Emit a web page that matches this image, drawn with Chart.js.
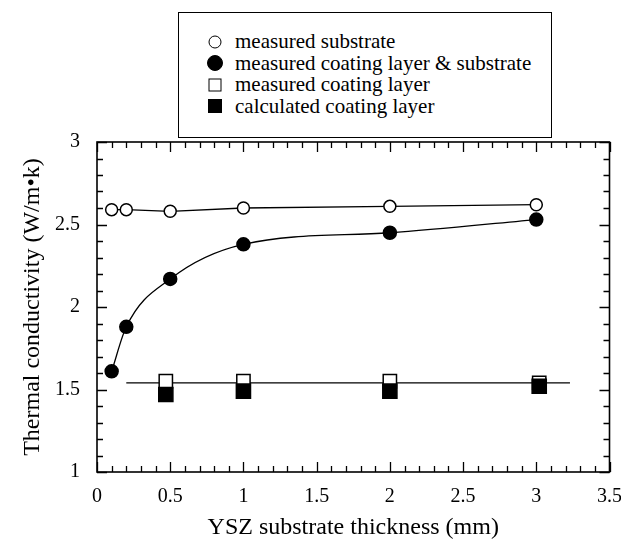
<!DOCTYPE html>
<html>
<head>
<meta charset="utf-8">
<script src="https://cdn.jsdelivr.net/npm/chart.js@4.4.1/dist/chart.umd.min.js"></script>
<style>
body { margin: 0; background: #fff; }
#wrap { position: relative; width: 621px; height: 542px; }
#legend {
    position: absolute; left: 178px; top: 12px; width: 374px; height: 126px;
    box-sizing: border-box; border: 1.5px solid #000; background: #fff;
    font-family: "Liberation Serif", serif; font-size: 21px; color: #000;
    padding-top: 18px;
}
.item { position: relative; height: 21.5px; line-height: 21.5px; padding-left: 56px; white-space: nowrap; }
.mk { position: absolute; left: 36px; top: 50%; transform: translate(-50%, -50%); box-sizing: border-box; }
</style>
</head>
<body>
<div id="wrap">
    <canvas id="chart" width="621" height="542"></canvas>
    <div id="legend"></div>
</div>
<script>
// YSZ substrate thickness (mm)
const thickness = [0.1, 0.2, 0.5, 1, 2, 3]
const substrate = [2.59, 2.59, 2.58, 2.60, 2.61, 2.62]
const coatingSubstrate = [1.61, 1.88, 2.17, 2.38, 2.45, 2.53]

const layerThickness = [0.47, 1, 2, 3.02]
const measuredLayer = [1.55, 1.55, 1.55, 1.54]
const calculatedLayer = [1.47, 1.49, 1.49, 1.52]

// horizontal line through the coating layer values
const fitX = [0.2, 3.23]
const fitY = [1.54, 1.54]

const xTicks = [0, 0.5, 1, 1.5, 2, 2.5, 3, 3.5]
const yTicks = [1, 1.5, 2, 2.5, 3]

const xTitle = "YSZ substrate thickness (mm)"
const yTitle = "Thermal conductivity (W/m\u2022k)"

const toPoints = (xs, ys) => xs.map((x, i) => ({ x, y: ys[i] }))

const series = [
    { label: "measured substrate", data: toPoints(thickness, substrate),
      style: "circle", fill: "#fff", radius: 6, legendSize: 13, line: true, order: 4 },
    { label: "measured coating layer & substrate", data: toPoints(thickness, coatingSubstrate),
      style: "circle", fill: "#000", radius: 6.5, legendSize: 16, line: true, smooth: true, order: 3 },
    { label: "measured coating layer", data: toPoints(layerThickness, measuredLayer),
      style: "rect", fill: "#fff", radius: 9.4, legendSize: 13, line: false, order: 2 },
    { label: "calculated coating layer", data: toPoints(layerThickness, calculatedLayer),
      style: "rect", fill: "#000", radius: 10, legendSize: 14, line: false, order: 1 }
]

const datasets = series.map((s) => ({
    label: s.label,
    data: s.data,
    showLine: s.line,
    cubicInterpolationMode: s.smooth ? "monotone" : "default",
    tension: 0,
    borderColor: "#000",
    borderWidth: 1.3,
    pointStyle: s.style,
    pointRadius: s.radius,
    pointBackgroundColor: s.fill,
    pointBorderColor: "#000",
    pointBorderWidth: 1.5,
    order: s.order
}))

datasets.push({
    label: "",
    data: toPoints(fitX, fitY),
    showLine: true,
    borderColor: "#000",
    borderWidth: 1.3,
    pointRadius: 0,
    order: 5
})

// frame and inward ticks on all four sides
const frameTicks = {
    id: "frameTicks",
    afterDraw(chart) {
        const { ctx, chartArea: a, scales: { x, y } } = chart
        ctx.save()
        ctx.strokeStyle = "#000"
        ctx.lineWidth = 1.6
        ctx.strokeRect(a.left, a.top, a.right - a.left, a.bottom - a.top)
        ctx.lineWidth = 1.3
        ctx.beginPath()
        for (let i = 0; i <= 35; i++) {
            const px = Math.round(x.getPixelForValue(i / 10)) + 0.5
            const len = i % 5 === 0 ? 10 : 6
            ctx.moveTo(px, a.bottom)
            ctx.lineTo(px, a.bottom - len)
            ctx.moveTo(px, a.top)
            ctx.lineTo(px, a.top + len)
        }
        for (let i = 10; i <= 30; i++) {
            const py = Math.round(y.getPixelForValue(i / 10)) + 0.5
            const len = i % 5 === 0 ? 10 : 6
            ctx.moveTo(a.left, py)
            ctx.lineTo(a.left + len, py)
            ctx.moveTo(a.right, py)
            ctx.lineTo(a.right - len, py)
        }
        ctx.stroke()
        ctx.restore()
    }
}

const noPad = (s) => {
    s.paddingLeft = 0
    s.paddingRight = 0
    s.paddingTop = 0
    s.paddingBottom = 0
}

Chart.defaults.font.family = "'Liberation Serif', serif"
Chart.defaults.color = "#000"

const ctx = document.getElementById("chart").getContext("2d")
const chart = new Chart(ctx, {
    type: "scatter",
    data: { datasets },
    options: {
        responsive: false,
        animation: false,
        layout: { padding: { top: 142, right: 11, left: 0, bottom: 0 } },
        plugins: {
            legend: { display: false },
            tooltip: { enabled: false }
        },
        scales: {
            x: {
                type: "linear",
                min: 0,
                max: 3.5,
                afterBuildTicks: (s) => { s.ticks = xTicks.map((v) => ({ value: v })) },
                afterFit: (s) => { s.height = 70; noPad(s) },
                grid: { display: false, drawTicks: false },
                border: { display: false },
                ticks: {
                    padding: 13,
                    font: { size: 20 },
                    maxRotation: 0,
                    autoSkip: false,
                    callback: (v) => String(v)
                },
                title: { display: true, text: xTitle, font: { size: 24 }, padding: { top: 0, bottom: 0 } }
            },
            y: {
                type: "linear",
                min: 1,
                max: 3,
                afterBuildTicks: (s) => { s.ticks = yTicks.map((v) => ({ value: v })) },
                afterFit: (s) => { s.width = 97; noPad(s) },
                grid: { display: false, drawTicks: false },
                border: { display: false },
                ticks: {
                    padding: 17,
                    font: { size: 20 },
                    autoSkip: false,
                    callback: (v) => String(v)
                },
                title: { display: true, text: yTitle, font: { size: 24 }, padding: { top: 18, bottom: 0 } }
            }
        }
    },
    plugins: [frameTicks]
})

// legend box built from the series
const legend = document.getElementById("legend")
for (const s of series) {
    const item = document.createElement("div")
    item.className = "item"
    const mk = document.createElement("span")
    mk.className = "mk"
    mk.style.width = s.legendSize + "px"
    mk.style.height = s.legendSize + "px"
    mk.style.background = s.fill
    mk.style.border = "1.5px solid #000"
    if (s.style === "circle") mk.style.borderRadius = "50%"
    item.appendChild(mk)
    item.appendChild(document.createTextNode(s.label))
    legend.appendChild(item)
}
</script>
</body>
</html>
